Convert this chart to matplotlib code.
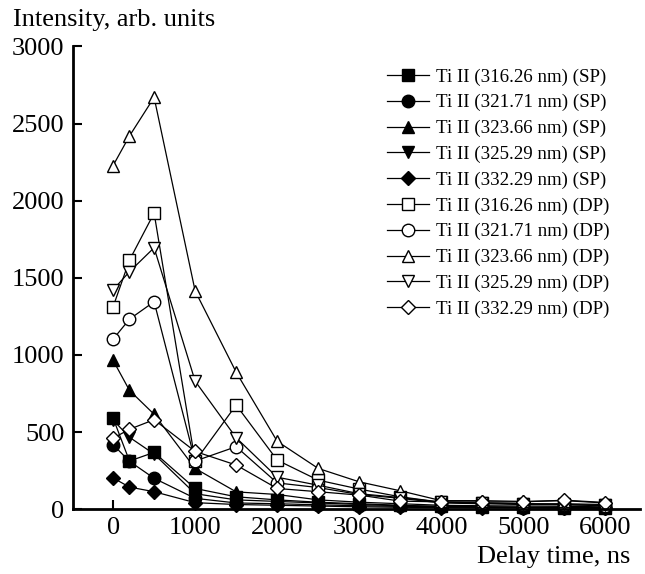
import matplotlib
matplotlib.use('Agg')
import matplotlib.pyplot as plt
import numpy as np

plt.rcParams['font.family'] = ['Liberation Serif', 'DejaVu Serif']

# delay times, ns
t = [0, 200, 500, 1000, 1500, 2000, 2500, 3000, 3500, 4000, 4500, 5000, 5500, 6000]

# single pulse (SP)
sp_316 = [590, 312, 368, 134, 80, 60, 45, 35, 25, 18, 15, 12, 10, 10]
sp_321 = [418, 310, 200, 70, 40, 35, 28, 22, 18, 14, 12, 10, 8, 8]
sp_323 = [965, 770, 615, 264, 112, 95, 60, 45, 35, 25, 22, 20, 18, 15]
sp_325 = [578, 466, 357, 100, 60, 50, 40, 30, 22, 16, 14, 12, 10, 10]
sp_332 = [202, 143, 113, 42, 30, 25, 20, 15, 12, 10, 8, 8, 6, 6]

# double pulse (DP)
dp_316 = [1312, 1615, 1920, 310, 675, 318, 188, 130, 80, 45, 40, 35, 30, 25]
dp_321 = [1102, 1232, 1345, 312, 405, 170, 140, 95, 70, 40, 35, 30, 28, 22]
dp_323 = [2228, 2420, 2670, 1415, 888, 440, 264, 177, 119, 55, 55, 50, 55, 40]
dp_325 = [1422, 1540, 1695, 830, 463, 207, 155, 100, 75, 45, 40, 35, 35, 30]
dp_332 = [460, 518, 580, 374, 286, 134, 113, 91, 52, 47, 47, 47, 58, 43]

lines = ['316.26', '321.71', '323.66', '325.29', '332.29']
markers = ['s', 'o', '^', 'v', 'D']
sp = [sp_316, sp_321, sp_323, sp_325, sp_332]
dp = [dp_316, dp_321, dp_323, dp_325, dp_332]

fig = plt.figure(figsize=(6.45, 5.74), dpi=100)
ax = fig.add_axes([0.113, 0.113, 0.879, 0.806])

for i in range(5):
    ms = 7.5 if markers[i] == 'D' else 9
    ax.plot(t, sp[i], color='black', lw=0.9, marker=markers[i], ms=ms,
            mfc='black', mec='black', clip_on=False,
            label='Ti II (' + lines[i] + ' nm) (SP)')
for i in range(5):
    ms = 7.5 if markers[i] == 'D' else 9
    ax.plot(t, dp[i], color='black', lw=0.9, marker=markers[i], ms=ms,
            mfc='white', mec='black', mew=1.0, clip_on=False,
            label='Ti II (' + lines[i] + ' nm) (DP)')

ax.set_xlim(-490, 6420)
ax.set_ylim(0, 3000)
ax.set_xticks([0, 1000, 2000, 3000, 4000, 5000, 6000])
ax.set_yticks([0, 500, 1000, 1500, 2000, 2500, 3000])
ax.spines['top'].set_visible(False)
ax.spines['right'].set_visible(False)
ax.spines['left'].set_linewidth(2)
ax.spines['bottom'].set_linewidth(2)
ax.tick_params(direction='in', length=6.5, width=1.5, labelsize=19, pad=6)

fig.text(0.02, 0.985, 'Intensity, arb. units', fontsize=19, ha='left', va='top')
fig.text(0.977, 0.01, 'Delay time, ns', fontsize=19, ha='right', va='bottom')

ax.legend(loc='upper left', bbox_to_anchor=(0.6, 0.881), bbox_transform=fig.transFigure,
          frameon=False, fontsize=13.6, numpoints=1, handlelength=2.2,
          handletextpad=0.4, labelspacing=0.45, borderpad=0, borderaxespad=0)

fig.savefig('out.png', dpi=100)
